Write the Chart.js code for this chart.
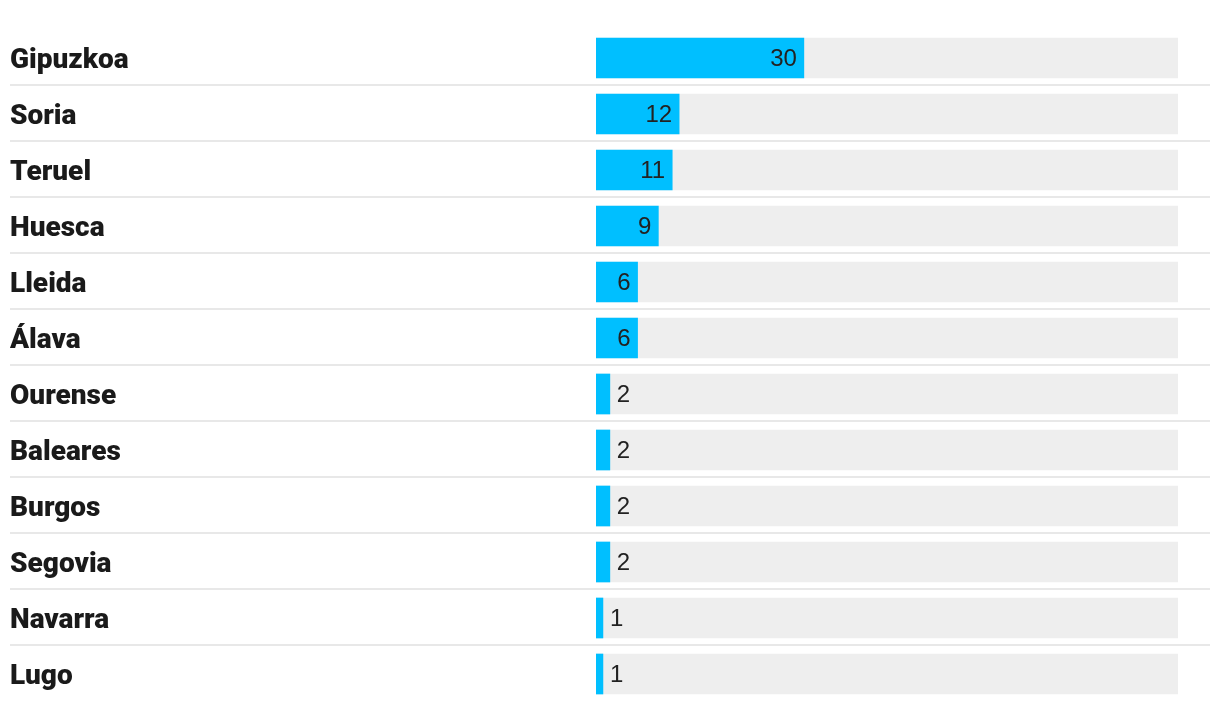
<!DOCTYPE html>
<html><head><meta charset="utf-8">
<script src="https://cdn.jsdelivr.net/npm/chart.js@4"></script>
<style>html,body{margin:0;padding:0;background:#fff}#wrap{width:1220px;height:710px}</style>
</head><body><div id="wrap"><canvas id="c" width="1220" height="710"></canvas></div>
<script>
const categories = ["Gipuzkoa","Soria","Teruel","Huesca","Lleida","Álava","Ourense","Baleares","Burgos","Segovia","Navarra","Lugo"];
const values = [30,12,11,9,6,6,2,2,2,2,1,1];
const scaleMax = 84;
const backgroundValues = categories.map(() => scaleMax);

const valueFont = '24px "Liberation Sans", Arial, sans-serif';

const separators = {
  id: 'separators',
  beforeDatasetsDraw(chart) {
    const ctx = chart.ctx, y = chart.scales.y;
    ctx.save();
    ctx.fillStyle = '#e8e8e8';
    for (let i = 0; i < categories.length - 1; i++) {
      const mid = (y.getPixelForValue(i) + y.getPixelForValue(i + 1)) / 2;
      ctx.fillRect(10, Math.round(mid) - 2, 1200, 2);
    }
    ctx.restore();
  }
};

const valueLabels = {
  id: 'valueLabels',
  afterDatasetsDraw(chart) {
    const ctx = chart.ctx;
    const meta = chart.getDatasetMeta(0);
    ctx.save();
    ctx.font = valueFont;
    ctx.fillStyle = '#222222';
    ctx.textBaseline = 'middle';
    meta.data.forEach((bar, i) => {
      const txt = String(values[i]);
      const w = ctx.measureText(txt).width;
      const barW = bar.x - bar.base;
      if (barW > w + 14) {
        ctx.textAlign = 'right';
        ctx.fillText(txt, bar.x - 7, bar.y + 1);
      } else {
        ctx.textAlign = 'left';
        ctx.fillText(txt, bar.x + 7, bar.y + 1);
      }
    });
    ctx.restore();
  }
};

new Chart(document.getElementById('c'), {
  type: 'bar',
  data: {
    labels: categories,
    datasets: [
      { data: values, backgroundColor: '#00bfff', barThickness: 40, grouped: false },
      { data: backgroundValues, backgroundColor: '#eeeeee', barThickness: 40, grouped: false }
    ]
  },
  options: {
    indexAxis: 'y',
    responsive: false,
    animation: false,
    layout: { padding: { left: 10, top: 30, bottom: 8, right: 42 } },
    plugins: { legend: { display: false }, tooltip: { enabled: false } },
    scales: {
      x: { display: false, min: 0, max: scaleMax },
      y: {
        afterFit(s) { s.width = 586; s.paddingTop = 0; s.paddingBottom = 0; },
        grid: { display: false },
        border: { display: false },
        ticks: {
          crossAlign: 'far',
          padding: 0,
          labelOffset: 3,
          color: '#1a1a1a',
          font: { family: 'Roboto, "DejaVu Sans Condensed", sans-serif', size: 28, weight: '900' }
        }
      }
    }
  },
  plugins: [separators, valueLabels]
});
</script>
</body></html>
